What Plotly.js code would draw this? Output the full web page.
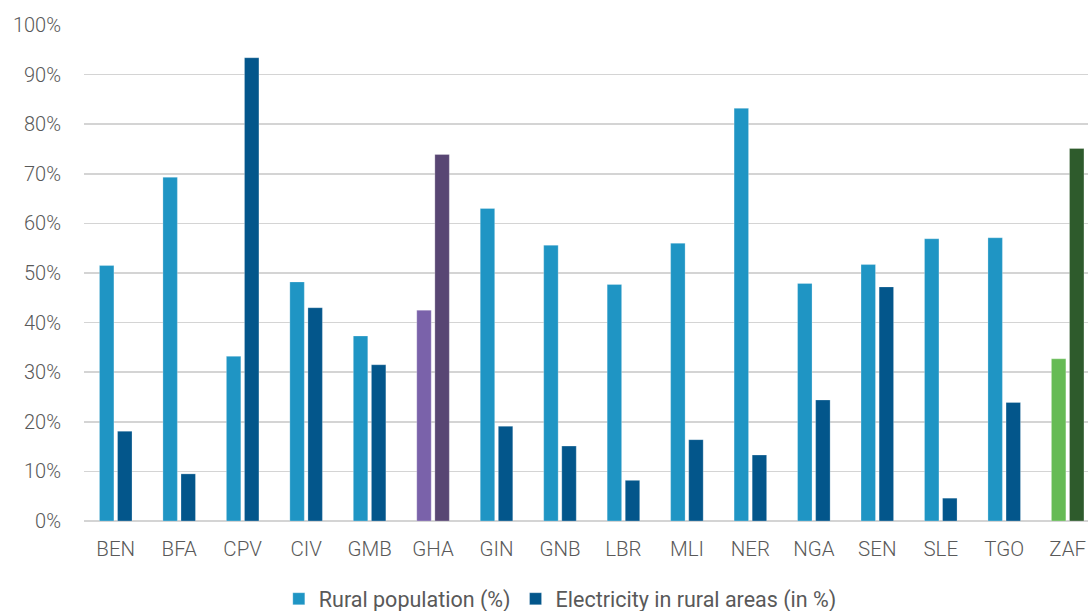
<!DOCTYPE html>
<html>
<head>
<meta charset="utf-8">
<script src="https://cdn.plot.ly/plotly-3.0.1.min.js"></script>
<style>
html,body{margin:0;padding:0;overflow:hidden;background:#fff;}
#chart{width:1088px;height:611px;}
</style>
</head>
<body>
<div id="chart"></div>
<script>
const countries = ["BEN","BFA","CPV","CIV","GMB","GHA","GIN","GNB","LBR","MLI","NER","NGA","SEN","SLE","TGO","ZAF"];
const ruralPopulation = [51.5, 69.3, 33.2, 48.2, 37.3, 42.5, 63.0, 55.6, 47.7, 56.0, 83.2, 47.9, 51.7, 56.9, 57.1, 32.7];
const ruralElectricity = [18.1, 9.5, 93.4, 43.0, 31.5, 73.9, 19.1, 15.1, 8.2, 16.4, 13.3, 24.4, 47.2, 4.6, 23.9, 75.1];
const seriesNames = ["Rural population (%)", "Electricity in rural areas (in %)"];
const yTickVals = [0,10,20,30,40,50,60,70,80,90,100];
const yTickText = ["0%","10%","20%","30%","40%","50%","60%","70%","80%","90%","100%"];

const lightColors = countries.map(c => c === "GHA" ? "#7A62AA" : (c === "ZAF" ? "#66BB55" : "#1F95C4"));
const darkColors = countries.map(c => c === "GHA" ? "#584673" : (c === "ZAF" ? "#2E5B2C" : "#03568B"));

const font = {family: "Roboto, 'Open Sans', sans-serif", size: 20, color: "#595959", weight: 300};
const xFont = {family: "Roboto, 'Open Sans', sans-serif", size: 20.5, color: "#595959", weight: 300};
const legendFont = {family: "Roboto, 'Open Sans', sans-serif", size: 21.5, color: "#595959", weight: 400};

const traces = [
  {type: "bar", name: seriesNames[0], x: countries, y: ruralPopulation,
   marker: {color: lightColors, line: {color: "rgba(255,255,255,0.35)", width: 0.75}}, hoverinfo: "x+y"},
  {type: "bar", name: seriesNames[1], x: countries, y: ruralElectricity,
   marker: {color: darkColors, line: {color: "rgba(255,255,255,0.35)", width: 0.75}}, hoverinfo: "x+y"}
];

const layout = {
  width: 1088, height: 611,
  margin: {l: 84, r: 0, t: 25, b: 90},
  paper_bgcolor: "#fff", plot_bgcolor: "#fff",
  font: font,
  barmode: "group", bargap: 0.43, bargroupgap: 0.2,
  showlegend: true,
  legend: {orientation: "h", xref: "container", yref: "container", x: 0.515, xanchor: "center", y: 0.02, yanchor: "middle",
           font: legendFont, itemwidth: 30, traceorder: "normal"},
  xaxis: {type: "category", range: [-0.5, 15.32], showgrid: false, zeroline: false, showline: false,
          ticks: "", tickfont: xFont, ticklabelstandoff: 13, fixedrange: true},
  yaxis: {range: [0, 100], tickvals: yTickVals, ticktext: yTickText, showgrid: true, gridcolor: "#D4D4D4", gridwidth: 1.5,
          zeroline: true, zerolinecolor: "#D4D4D4", zerolinewidth: 1.5, showline: false, ticks: "",
          tickfont: font, ticklabelstandoff: 22, fixedrange: true}
};

Plotly.newPlot("chart", traces, layout, {displayModeBar: false, staticPlot: true});
</script>
</body>
</html>
